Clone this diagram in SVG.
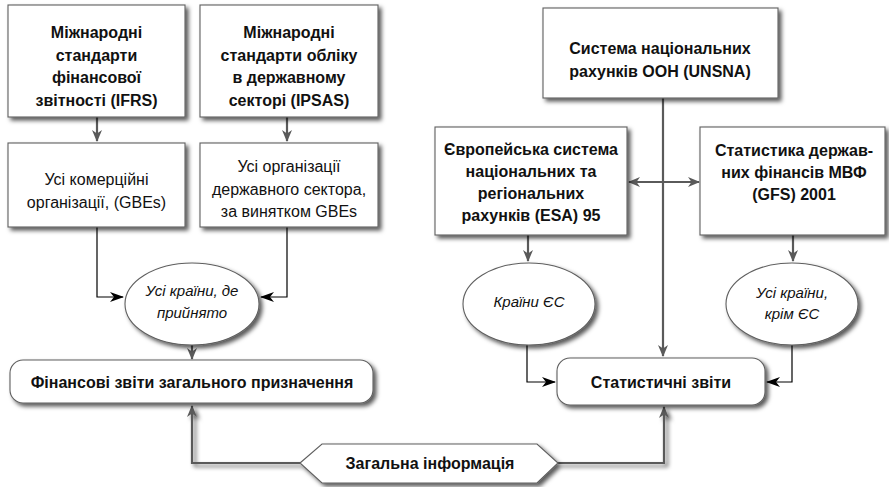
<svg xmlns="http://www.w3.org/2000/svg" width="889" height="487" viewBox="0 0 889 487">
<style>
.box{fill:#fff;stroke:#5f5f5f;stroke-width:1.1}
.t{font-family:"Liberation Sans",Arial,sans-serif;font-size:16px;fill:#111;text-anchor:middle}
.b{font-weight:bold}
.i{font-style:italic;font-size:15px}
.g{fill:none;stroke:#5a5a5a;stroke-width:2.2}
.k{fill:none;stroke:#000;stroke-width:1.2}
</style>
<defs>
<filter id="sh" x="-10%" y="-10%" width="125%" height="135%">
<feDropShadow dx="3" dy="3" stdDeviation="2" flood-color="#000" flood-opacity="0.65"/>
</filter>
<marker id="ag" viewBox="0 0 12 10" refX="11" refY="5" markerWidth="12" markerHeight="10" markerUnits="userSpaceOnUse" orient="auto-start-reverse">
<path d="M0,0 L12,5 L0,10 L3.5,5 z" fill="#5a5a5a"/>
</marker>
<marker id="ak" viewBox="0 0 14 10" refX="13" refY="5" markerWidth="14" markerHeight="10" markerUnits="userSpaceOnUse" orient="auto">
<path d="M0,0 L14,5 L0,10 L4,5 z" fill="#000"/>
</marker>
</defs>
<rect width="889" height="487" fill="#fff"/>

<g id="connectors">
<path class="g" d="M97,117 V141" marker-end="url(#ag)"/>
<path class="g" d="M287,117 V141" marker-end="url(#ag)"/>
<path class="k" d="M97,227 V297 H123" marker-end="url(#ak)"/>
<path class="k" d="M287,227 V297 H261" marker-end="url(#ak)"/>
<path class="g" d="M192,345 V359" marker-end="url(#ag)"/>
<path class="g" d="M300,463 H192 V406" marker-end="url(#ag)" filter="url(#sh)"/>
<path class="g" d="M558,463 H664 V407" marker-end="url(#ag)" filter="url(#sh)"/>
<path class="g" d="M663,98 V356" marker-end="url(#ag)"/>
<path class="g" d="M629,182 H699" marker-start="url(#ag)" marker-end="url(#ag)"/>
<path class="g" d="M528,235 V261" marker-end="url(#ag)"/>
<path class="g" d="M793,235 V261" marker-end="url(#ag)"/>
<path class="k" d="M527,345 V382 H555" marker-end="url(#ak)"/>
<path class="k" d="M792,345 V382 H767" marker-end="url(#ak)"/>
</g>

<g id="ifrs">
<rect class="box" x="8" y="5" width="177" height="112" filter="url(#sh)"/>
<text class="t b" x="96.5" y="38">Міжнародні</text>
<text class="t b" x="96.5" y="60.5">стандарти</text>
<text class="t b" x="96.5" y="83">фінансової</text>
<text class="t b" x="96.5" y="105.5">звітності (IFRS)</text>
</g>
<g id="ipsas">
<rect class="box" x="200" y="5" width="178" height="112" filter="url(#sh)"/>
<text class="t b" x="289" y="38">Міжнародні</text>
<text class="t b" x="289" y="60.5">стандарти обліку</text>
<text class="t b" x="289" y="83">в державному</text>
<text class="t b" x="289" y="105.5">секторі (IPSAS)</text>
</g>
<g id="gbe">
<rect class="box" x="8" y="143" width="177" height="84" filter="url(#sh)"/>
<text class="t" x="96.5" y="185">Усі комерційні</text>
<text class="t" x="96.5" y="208">організації, (GBEs)</text>
</g>
<g id="public">
<rect class="box" x="200" y="143" width="178" height="84" filter="url(#sh)"/>
<text class="t" x="289" y="172">Усі організації</text>
<text class="t" x="289" y="195">державного сектора,</text>
<text class="t" x="289" y="217">за винятком GBEs</text>
</g>
<g id="adopted">
<ellipse class="box" cx="192" cy="304" rx="67" ry="41" filter="url(#sh)"/>
<text class="t i" x="192" y="296">Усі країни, де</text>
<text class="t i" x="192" y="318">прийнято</text>
</g>
<g id="gpfs">
<rect class="box" x="10" y="360" width="363" height="43" rx="13" filter="url(#sh)"/>
<text class="t b" x="192" y="388">Фінансові звіти загального призначення</text>
</g>
<g id="common">
<polygon class="box" points="300,463 322,444 537,444 558,463 537,483 322,483" filter="url(#sh)"/>
<text class="t b" x="430" y="469">Загальна інформація</text>
</g>
<g id="unsna">
<rect class="box" x="543" y="8" width="235" height="90" filter="url(#sh)"/>
<text class="t b" x="660" y="54">Система національних</text>
<text class="t b" x="660" y="77">рахунків ООН (UNSNA)</text>
</g>
<g id="esa">
<rect class="box" x="435" y="127" width="192" height="108" filter="url(#sh)"/>
<text class="t b" x="531" y="155">Європейська система</text>
<text class="t b" x="531" y="177">національних та</text>
<text class="t b" x="531" y="199">регіональних</text>
<text class="t b" x="531" y="221">рахунків (ESA) 95</text>
</g>
<g id="gfs">
<rect class="box" x="700" y="127" width="185" height="108" filter="url(#sh)"/>
<text class="t b" x="794" y="156">Статистика держав-</text>
<text class="t b" x="794" y="178">них фінансів МВФ</text>
<text class="t b" x="794" y="200">(GFS) 2001</text>
</g>
<g id="eu">
<ellipse class="box" cx="529" cy="304" rx="66" ry="41" filter="url(#sh)"/>
<text class="t i" x="529" y="307">Країни ЄС</text>
</g>
<g id="noneu">
<ellipse class="box" cx="792" cy="304" rx="66" ry="41" filter="url(#sh)"/>
<text class="t i" x="792" y="298">Усі країни,</text>
<text class="t i" x="792" y="319">крім ЄС</text>
</g>
<g id="stat">
<rect class="box" x="557" y="358" width="208" height="47" rx="13" filter="url(#sh)"/>
<text class="t b" x="661" y="388">Статистичні звіти</text>
</g>
</svg>
